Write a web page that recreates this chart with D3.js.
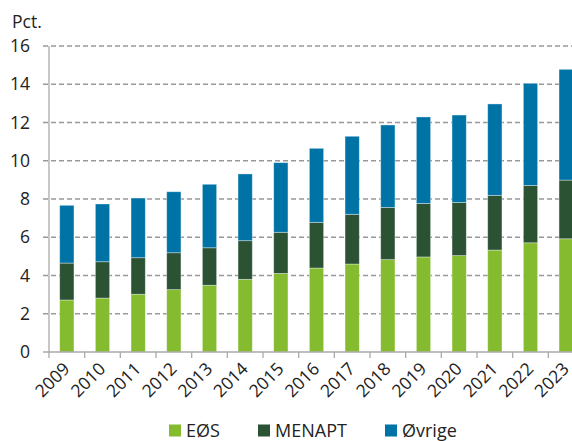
<!DOCTYPE html>
<html>
<head>
<meta charset="utf-8">
<script src="https://cdn.jsdelivr.net/npm/d3@7"></script>
<style>
  body { margin: 0; background: #fff; }
  svg { font-family: "Open Sans", "Noto Sans", sans-serif; }
</style>
</head>
<body>
<svg width="572" height="441"></svg>
<script>
const years = ["2009","2010","2011","2012","2013","2014","2015","2016","2017","2018","2019","2020","2021","2022","2023"]
const eos =    [2.72, 2.82, 3.02, 3.26, 3.49, 3.80, 4.11, 4.39, 4.60, 4.83, 4.97, 5.04, 5.33, 5.71, 5.92]
const menapt = [1.93, 1.90, 1.91, 1.93, 1.96, 2.02, 2.15, 2.39, 2.60, 2.73, 2.80, 2.78, 2.86, 3.00, 3.07]
const ovrige = [3.02, 3.02, 3.12, 3.19, 3.32, 3.49, 3.64, 3.87, 4.08, 4.31, 4.52, 4.57, 4.78, 5.34, 5.79]
const yTicks = [0, 2, 4, 6, 8, 10, 12, 14, 16]
const seriesNames = ["EØS", "MENAPT", "Øvrige"]
const colors = ["#85bb2f", "#2c5234", "#0073a6"]

const svg = d3.select("svg")
const x = d3.scaleBand().domain(years).range([49, 584]).paddingInner(0.6).paddingOuter(0.3)
const band = d3.scaleBand().domain(years).range([49, 584])
const y = d3.scaleLinear().domain([0, 16]).range([352, 46])

// grid
svg.append("g").selectAll("line")
  .data(yTicks.filter(d => d > 0)).enter()
  .append("line")
  .attr("x1", 43).attr("x2", 572)
  .attr("y1", d => y(d)).attr("y2", d => y(d))
  .attr("stroke", "#999").attr("stroke-width", 1.3)
  .attr("stroke-dasharray", "5,3")

// y labels
svg.append("g").selectAll("text")
  .data(yTicks).enter()
  .append("text")
  .attr("x", 30).attr("y", d => y(d) + 6)
  .attr("text-anchor", "end")
  .attr("font-size", 17.5).attr("fill", "#222")
  .text(d => d)

svg.append("text").attr("x", 12).attr("y", 28)
  .attr("font-size", 17.5).attr("fill", "#222").text("Pct.")

// stacked bars
const rows = years.map((yr, i) => ({year: yr, "EØS": eos[i], "MENAPT": menapt[i], "Øvrige": ovrige[i]}))
const stacked = d3.stack().keys(seriesNames)(rows)
svg.append("g").selectAll("g")
  .data(stacked).enter()
  .append("g")
  .attr("fill", (d, i) => colors[i])
  .selectAll("rect")
  .data(d => d).enter()
  .append("rect")
  .attr("x", d => x(d.data.year))
  .attr("width", x.bandwidth())
  .attr("y", d => y(d[1]))
  .attr("height", d => y(d[0]) - y(d[1]))
  .attr("stroke", "rgba(255,255,255,0.45)").attr("stroke-width", 0.8)

// axes lines
svg.append("line").attr("x1", 49).attr("x2", 49).attr("y1", 46).attr("y2", 352)
  .attr("stroke", "#aaa").attr("stroke-width", 1.3)
svg.append("line").attr("x1", 43).attr("x2", 572).attr("y1", 352).attr("y2", 352)
  .attr("stroke", "#aaa").attr("stroke-width", 1.3)
svg.append("g").selectAll("line")
  .data(years).enter()
  .append("line")
  .attr("x1", d => band(d)).attr("x2", d => band(d))
  .attr("y1", 352).attr("y2", 358)
  .attr("stroke", "#aaa").attr("stroke-width", 1.3)

// x labels
svg.append("g").selectAll("text")
  .data(years).enter()
  .append("text")
  .attr("transform", d => "translate(" + (band(d) + band.bandwidth() / 2 + 4) + ",370) rotate(-45)")
  .attr("text-anchor", "end")
  .attr("font-size", 17.5).attr("fill", "#222")
  .text(d => d)

// legend
const legX = [169, 258, 385]
const leg = svg.append("g").selectAll("g")
  .data(seriesNames).enter()
  .append("g")
  .attr("transform", (d, i) => "translate(" + legX[i] + ",424.5)")
leg.append("rect").attr("width", 12).attr("height", 12).attr("fill", (d, i) => colors[i])
leg.append("text").attr("x", 17).attr("y", 12.5)
  .attr("font-size", 18).attr("fill", "#222").text(d => d)
</script>
</body>
</html>
